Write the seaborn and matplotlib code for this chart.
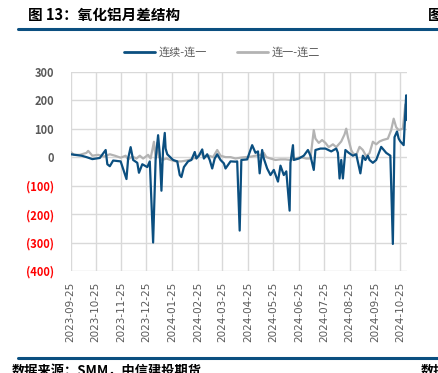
import pandas as pd
import matplotlib
matplotlib.use("Agg")
import matplotlib.pyplot as plt
import matplotlib.dates as mdates
import seaborn as sns

# -----------------------------
# Data
# -----------------------------
blue_dates = [
    "2023-09-25", "2023-09-30", "2023-10-08", "2023-10-14", "2023-10-21", "2023-10-30",
    "2023-11-06", "2023-11-08", "2023-11-11", "2023-11-15", "2023-11-24", "2023-12-01",
    "2023-12-03", "2023-12-06", "2023-12-09", "2023-12-14", "2023-12-16", "2023-12-20",
    "2023-12-26", "2023-12-29", "2024-01-02", "2024-01-05", "2024-01-08", "2024-01-10",
    "2024-01-12", "2024-01-14", "2024-01-16", "2024-01-17", "2024-01-19", "2024-01-26",
    "2024-01-31", "2024-02-03", "2024-02-05", "2024-02-08", "2024-02-13", "2024-02-17",
    "2024-02-21", "2024-02-23", "2024-02-26", "2024-03-01", "2024-03-03", "2024-03-07",
    "2024-03-10", "2024-03-13", "2024-03-16", "2024-03-19", "2024-03-23", "2024-03-27",
    "2024-03-29", "2024-04-04", "2024-04-10", "2024-04-12", "2024-04-15", "2024-04-17",
    "2024-04-24", "2024-04-30", "2024-05-04", "2024-05-07", "2024-05-09", "2024-05-12",
    "2024-05-14", "2024-05-18", "2024-05-22", "2024-05-26", "2024-05-31", "2024-06-03",
    "2024-06-07", "2024-06-10", "2024-06-14", "2024-06-15", "2024-06-18", "2024-06-19",
    "2024-06-25", "2024-07-01", "2024-07-06", "2024-07-09", "2024-07-13", "2024-07-15",
    "2024-07-21", "2024-07-27", "2024-08-03", "2024-08-09", "2024-08-11", "2024-08-13",
    "2024-08-15", "2024-08-17", "2024-08-20", "2024-08-24", "2024-08-29", "2024-09-02",
    "2024-09-07", "2024-09-10", "2024-09-13", "2024-09-16", "2024-09-18", "2024-09-22",
    "2024-09-26", "2024-10-02", "2024-10-08", "2024-10-13", "2024-10-16", "2024-10-18",
    "2024-10-21", "2024-10-23", "2024-10-25", "2024-10-29", "2024-11-01", "2024-11-02",
]
blue_values = [
    10, 8, 5, 0, -7, -3,
    25, -25, -32, -12, -15, -77,
    -5, 35, -10, -20, -55, -25,
    -35, -15, -300, -10, 77, 10,
    -118, 30, 85, 30, 10, -10,
    -15, -63, -70, -35, -15, -10,
    18, -5, 5, 27, -5, 10,
    -10, -40, -5, 10, -10, -22,
    -40, -15, -16, -15, -258, -10,
    -8, 42, 15, 20, -57, 25,
    -5, -40, -63, -45, -86, -30,
    -63, -50, -188, -20, 42, -10,
    -5, 5, 25, 5, -45, 25,
    30, 30, 20, 30, 15, -75,
    -10, -75, 25, 15, 5, 10,
    -57, 5, -10, 5, -10, -20,
    -10, 36, 15, 5, -305, 70,
    90, 65, 55, 42, 217, 130,
]

gray_dates = [
    "2023-09-25", "2023-09-29", "2023-10-06", "2023-10-14", "2023-10-16", "2023-10-21",
    "2023-10-28", "2023-11-04", "2023-11-11", "2023-11-17", "2023-11-24", "2023-11-30",
    "2023-12-03", "2023-12-08", "2023-12-13", "2023-12-17", "2023-12-21", "2023-12-27",
    "2023-12-30", "2024-01-03", "2024-01-05", "2024-01-07", "2024-01-09", "2024-01-13",
    "2024-01-18", "2024-01-23", "2024-01-29", "2024-02-05", "2024-02-11", "2024-02-17",
    "2024-02-23", "2024-02-29", "2024-03-03", "2024-03-09", "2024-03-14", "2024-03-19",
    "2024-03-23", "2024-03-29", "2024-04-04", "2024-04-10", "2024-04-16", "2024-04-22",
    "2024-04-29", "2024-05-04", "2024-05-10", "2024-05-14", "2024-05-17", "2024-05-22",
    "2024-05-28", "2024-06-03", "2024-06-09", "2024-06-15", "2024-06-21", "2024-06-27",
    "2024-07-04", "2024-07-09", "2024-07-13", "2024-07-15", "2024-07-19", "2024-07-23",
    "2024-07-27", "2024-07-31", "2024-08-05", "2024-08-09", "2024-08-15", "2024-08-19",
    "2024-08-21", "2024-08-23", "2024-08-27", "2024-08-29", "2024-09-02", "2024-09-06",
    "2024-09-10", "2024-09-14", "2024-09-18", "2024-09-22", "2024-09-26", "2024-09-30",
    "2024-10-04", "2024-10-10", "2024-10-14", "2024-10-17", "2024-10-20", "2024-10-23",
    "2024-10-28", "2024-10-31", "2024-11-02",
]
gray_values = [
    18, 8, 8, 15, 22, 5,
    8, 2, 10, 5, -2, 5,
    -8, 2, -5, 5, -5, 8,
    -5, 54, -5, 50, 0, -10,
    -5, -10, -15, -15, -12, -8,
    0, 14, 0, 5, 0, 25,
    5, 0, 0, -5, -2, 0,
    2, 5, 8, 15, 0, -5,
    -10, -8, -8, -10, -5, 0,
    -5, -5, 95, 65, 50, 60,
    50, 35, 45, 35, 55, 80,
    100, 70, 25, 14, 7, 36,
    25, 3, 14, 54, 45, 55,
    60, 65, 95, 135, 105, 95,
    100, 185, 130,
]

y_ticks = [300, 200, 100, 0, -100, -200, -300, -400]
x_ticks = ["2023-09-25", "2023-10-25", "2023-11-25", "2023-12-25", "2024-01-25",
           "2024-02-25", "2024-03-25", "2024-04-25", "2024-05-25", "2024-06-25",
           "2024-07-25", "2024-08-25", "2024-09-25", "2024-10-25"]

df_blue = pd.DataFrame({"date": pd.to_datetime(blue_dates), "value": blue_values})
df_gray = pd.DataFrame({"date": pd.to_datetime(gray_dates), "value": gray_values})

# -----------------------------
# Style
# -----------------------------
sns.set_theme(style="white")
plt.rcParams["font.family"] = ["Noto Sans CJK SC", "DejaVu Sans"]

BLUE = "#0b4f80"
GRAY = "#b3b3b3"
TEXT_GRAY = "#595959"

fig = plt.figure(figsize=(4.38, 3.73), dpi=100)
ax = fig.add_axes([70.7 / 438, 1 - 271 / 373, (407 - 70.7) / 438, (271 - 71.7) / 373])

sns.lineplot(data=df_gray, x="date", y="value", ax=ax, color=GRAY, linewidth=1.6, zorder=3)
sns.lineplot(data=df_blue, x="date", y="value", ax=ax, color=BLUE, linewidth=1.6, zorder=4)

ax.set_xlim(pd.Timestamp("2023-09-25"), pd.Timestamp("2024-11-02"))
ax.set_ylim(-400, 300)
ax.set_xlabel("")
ax.set_ylabel("")

ax.set_xticks(pd.to_datetime(x_ticks))
ax.xaxis.set_major_formatter(mdates.DateFormatter("%Y-%m-%d"))
ax.set_yticks(y_ticks)
ax.set_yticklabels([str(v) if v >= 0 else "(%d)" % -v for v in y_ticks])

ax.grid(True, color="#d9d9d9", linewidth=1.0)
for s in ax.spines.values():
    s.set_visible(False)

ax.tick_params(axis="x", labelrotation=90, labelsize=7.5, colors=TEXT_GRAY, length=0, pad=8)
ax.tick_params(axis="y", labelsize=8, length=0, pad=12)
for lab, v in zip(ax.get_yticklabels(), y_ticks):
    lab.set_fontweight("bold")
    lab.set_color(TEXT_GRAY if v >= 0 else "red")
for lab in ax.get_xticklabels():
    lab.set_family(["DejaVu Sans"])

# -----------------------------
# Header / legend / footer
# -----------------------------
fig.text(28 / 438, 1 - 15 / 373, "图 13：氧化铝月差结构", fontsize=10.5, fontweight="bold",
         color="black", va="center", ha="left")
fig.text(428 / 438, 1 - 15 / 373, "图", fontsize=10.5, fontweight="bold",
         color="black", va="center", ha="left")
fig.add_artist(plt.Line2D([18 / 438, 1], [1 - 28.5 / 373] * 2, color=BLUE, linewidth=2.2))

ly = 1 - 52 / 373
fig.add_artist(plt.Line2D([124 / 438, 155 / 438], [ly, ly], color=BLUE, linewidth=2))
fig.text(159 / 438, ly, "连续-连一", fontsize=8, color=TEXT_GRAY, va="center")
fig.add_artist(plt.Line2D([237 / 438, 268 / 438], [ly, ly], color=GRAY, linewidth=2))
fig.text(272 / 438, ly, "连一-连二", fontsize=8, color=TEXT_GRAY, va="center")

fig.add_artist(plt.Line2D([18 / 438, 1], [1 - 357.5 / 373] * 2, color=BLUE, linewidth=2.2))
fig.text(12 / 438, 1 - 371 / 373, "数据来源：SMM，中信建投期货", fontsize=9.5, fontweight="bold",
         style="italic", color="black", va="center", ha="left")
fig.text(421 / 438, 1 - 371 / 373, "数据", fontsize=9.5, fontweight="bold",
         style="italic", color="black", va="center", ha="left")

fig.savefig("out.png", dpi=100)
plt.close(fig)
